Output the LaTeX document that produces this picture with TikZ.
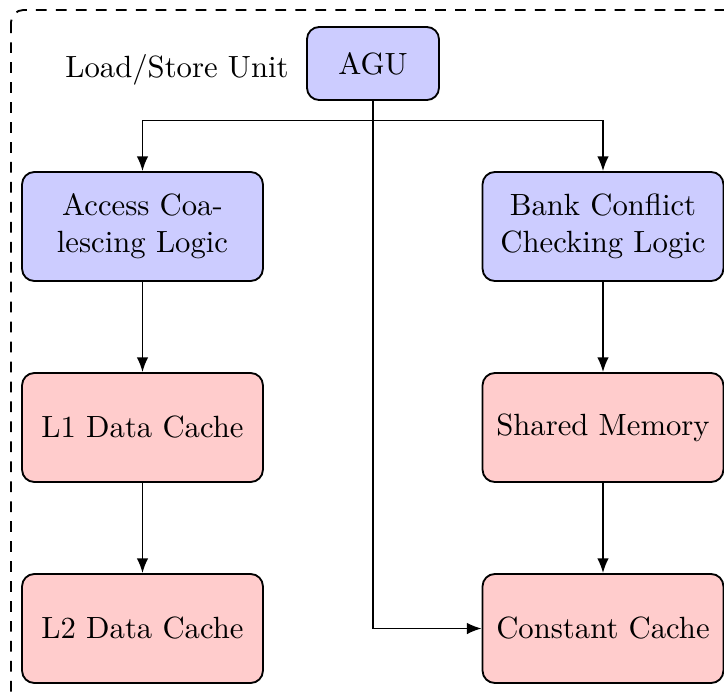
\documentclass[tikz,border=0pt]{standalone}
\usetikzlibrary{arrows.meta}
\definecolor{bluefill}{RGB}{204,204,255}
\definecolor{redfill}{RGB}{255,204,204}
\begin{document}
\begin{tikzpicture}[x=0.3257pt,y=-0.3257pt, semithick,
  unitbox/.style={draw, rounded corners=4pt, align=center, text width=71.8pt,
    minimum height=35.5pt, inner sep=3.33pt},
  logicbox/.style={unitbox, fill=bluefill},
  membox/.style={unitbox, fill=redfill},
  agubox/.style={draw, rounded corners=4pt, fill=bluefill, minimum width=43pt, minimum height=23.8pt},
  conn/.style={-{Latex[length=4.8pt,width=3.8pt]}}]
\useasboundingbox (0,0) rectangle (724,693);
\begin{scope}
\clip (0,0) rectangle (724,693);
\draw[dash pattern=on 3.5pt off 3pt, rounded corners=4pt] (11,10) rectangle (760,730);
\end{scope}
\node[agubox] (agu) at (373,63.5) {AGU};
\node (lsu) at (177,70) {Load/Store Unit};
\node[logicbox] (acl) at (142.5,226.5) {Access Coalescing Logic};
\node[logicbox] (bcl) at (603,226.5) {Bank Conflict Checking Logic};
\node[membox] (l1) at (142.5,427.5) {L1 Data Cache};
\node[membox] (sm) at (603,427.5) {Shared Memory};
\node[membox] (l2) at (142.5,628.5) {L2 Data Cache};
\node[membox] (cc) at (603,628.5) {Constant Cache};
\coordinate (split) at (373,120.5);
\draw (agu.south) -- (split);
\draw[conn] (split) -| (acl.north);
\draw[conn] (split) -| (bcl.north);
\draw[conn] (agu.south) |- (cc.west);
\draw[conn] (acl) -- (l1);
\draw[conn] (l1) -- (l2);
\draw[conn] (bcl) -- (sm);
\draw[conn] (sm) -- (cc);
\end{tikzpicture}
\end{document}
